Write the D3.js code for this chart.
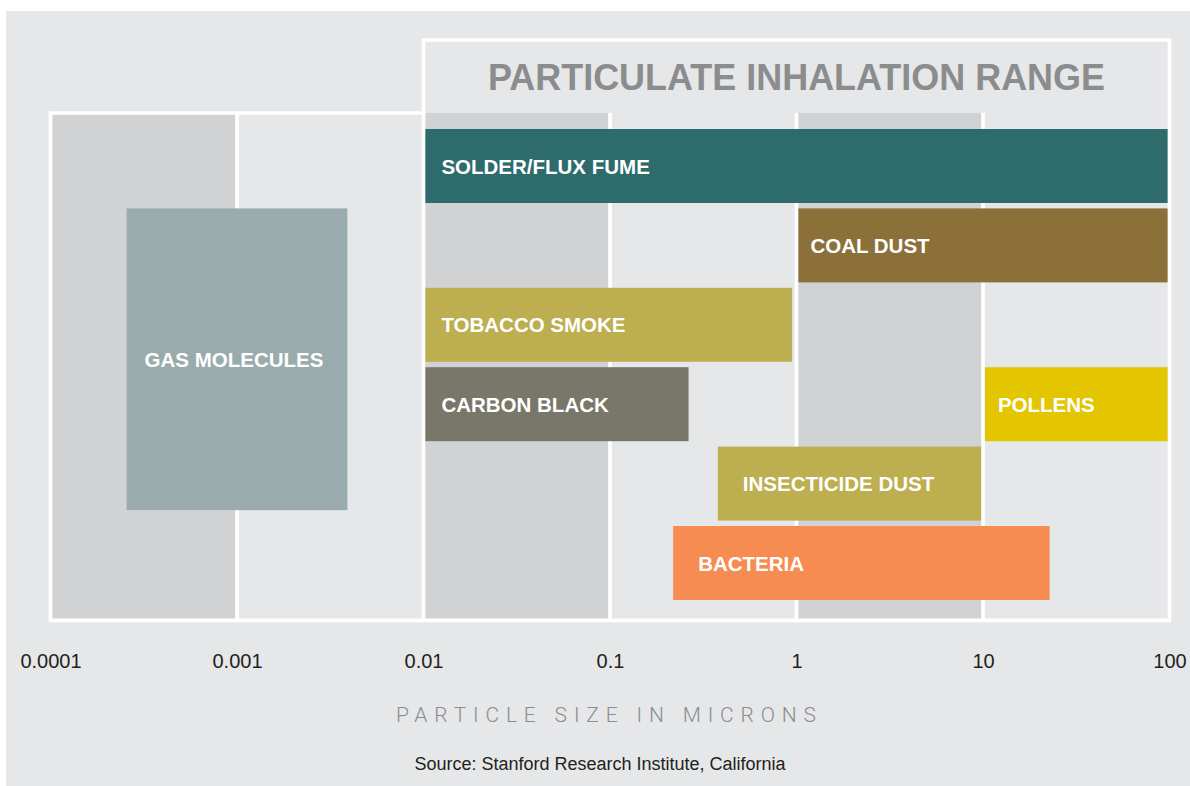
<!DOCTYPE html>
<html>
<head>
<meta charset="utf-8">
<script src="https://cdn.jsdelivr.net/npm/d3@7"></script>
<style>
  body { margin: 0; background: #fff; }
  text { font-family: "Liberation Sans", Arial, sans-serif; }
</style>
</head>
<body>
<svg id="chart" width="1190" height="786"></svg>
<script>
// Decade ticks on the size axis (microns)
var ticks = [0.0001, 0.001, 0.01, 0.1, 1, 10, 100];
var tickLabels = ["0.0001", "0.001", "0.01", "0.1", "1", "10", "100"];

// Particle ranges: name, smallest and largest size, and which row(s) they sit in
var particles = ["SOLDER/FLUX FUME", "COAL DUST", "TOBACCO SMOKE", "CARBON BLACK", "POLLENS", "INSECTICIDE DUST", "BACTERIA", "GAS MOLECULES"];
var sizeMin = [0.01, 1, 0.01, 0.01, 10, 0.37, 0.213, 0.00025];
var sizeMax = [100, 100, 0.97, 0.27, 100, 10, 23.3, 0.004];
var rowStart = [0, 1, 2, 3, 3, 4, 5, 1];
var rowEnd = [0.932, 1.932, 2.932, 3.932, 3.932, 4.932, 5.932, 4.8];

// styling kept apart from the data
var barColors = ["#2e6b6d", "#8b703a", "#bdae50", "#79766a", "#e3c500", "#bdae50", "#f78c52", "#9aabad"];
var labelPad = [16, 12, 16, 16, 13, 25, 25, null];

var svg = d3.select("#chart");

// background panel
svg.append("rect")
  .attr("x", 6).attr("y", 11)
  .attr("width", 1184).attr("height", 775)
  .attr("fill", "#e6e7e8");

var x = d3.scaleLog().domain([0.0001, 100]).range([50.5, 1169.5]);
var y = d3.scaleLinear().domain([0, 6]).range([129, 129 + 79.4 * 6]);

var plotTop = 113, plotBottom = 620.3, titleTop = 40;

// alternating decade bands
svg.selectAll(".band")
  .data(d3.range(ticks.length - 1))
  .enter().append("rect")
  .attr("class", "band")
  .attr("x", function(i) { return x(ticks[i]); })
  .attr("y", plotTop)
  .attr("width", function(i) { return x(ticks[i + 1]) - x(ticks[i]); })
  .attr("height", plotBottom - plotTop)
  .attr("fill", function(i) { return i % 2 == 0 ? "#d1d2d4" : "#e6e7e8"; });

// white decade separators
svg.selectAll(".sep")
  .data(ticks.slice(1, -1))
  .enter().append("line")
  .attr("class", "sep")
  .attr("x1", function(d) { return x(d); })
  .attr("x2", function(d) { return x(d); })
  .attr("y1", plotTop)
  .attr("y2", plotBottom)
  .attr("stroke", "#fff")
  .attr("stroke-width", 3.7);

// outline of plot + title box
var x0 = x(ticks[0]), x2 = x(ticks[2]), x6 = x(ticks[6]);
svg.append("path")
  .attr("d", "M" + x0 + "," + plotTop + "H" + x2 + "V" + titleTop + "H" + x6 + "V" + plotBottom + "H" + x0 + "Z")
  .attr("fill", "none")
  .attr("stroke", "#fff")
  .attr("stroke-width", 3.7);

// range bars
var inset = 1.9;
var bars = svg.selectAll(".bar")
  .data(particles)
  .enter().append("g")
  .attr("class", "bar");

bars.append("rect")
  .attr("x", function(d, i) { return x(sizeMin[i]) + inset; })
  .attr("y", function(d, i) { return y(rowStart[i]); })
  .attr("width", function(d, i) { return x(sizeMax[i]) - x(sizeMin[i]) - 2 * inset; })
  .attr("height", function(d, i) { return y(rowEnd[i]) - y(rowStart[i]); })
  .attr("fill", function(d, i) { return barColors[i]; });

bars.append("text")
  .attr("x", function(d, i) {
    if (labelPad[i] == null) return (x(sizeMin[i]) + x(sizeMax[i])) / 2 - 3;
    return x(sizeMin[i]) + inset + labelPad[i];
  })
  .attr("y", function(d, i) { return (y(rowStart[i]) + y(rowEnd[i])) / 2 + 7.5; })
  .attr("text-anchor", function(d, i) { return labelPad[i] == null ? "middle" : "start"; })
  .style("font-size", "20.5px")
  .style("font-weight", "bold")
  .style("fill", "#fff")
  .text(function(d) { return d; });

// title
svg.append("text")
  .attr("x", (x2 + x6) / 2)
  .attr("y", 89.5)
  .attr("text-anchor", "middle")
  .attr("textLength", 617)
  .attr("lengthAdjust", "spacingAndGlyphs")
  .style("font-family", "'Liberation Sans Narrow', 'Liberation Sans', Arial, sans-serif")
  .style("font-size", "37px")
  .style("font-weight", "bold")
  .style("fill", "#8b8c8e")
  .text("PARTICULATE INHALATION RANGE");

// x axis labels
var axis = svg.append("g")
  .attr("transform", "translate(0,668)")
  .call(d3.axisBottom(x).tickValues(ticks).tickSize(0).tickFormat(function(d, i) { return tickLabels[i]; }));
axis.select(".domain").remove();
axis.selectAll("text")
  .attr("y", 0).attr("dy", null)
  .style("font-family", "'Liberation Sans', Arial, sans-serif")
  .style("font-size", "20px")
  .style("fill", "#231f20");

// axis title
svg.append("text")
  .attr("x", 606)
  .attr("y", 722)
  .attr("text-anchor", "middle")
  .attr("textLength", 420)
  .attr("lengthAdjust", "spacing")
  .style("font-family", "Roboto, 'Liberation Sans', sans-serif")
  .style("font-weight", 300)
  .style("font-size", "21px")
  .style("fill", "#8b8c8e")
  .text("PARTICLE SIZE IN MICRONS");

// source note
svg.append("text")
  .attr("x", 600)
  .attr("y", 770)
  .attr("text-anchor", "middle")
  .style("font-size", "18px")
  .style("fill", "#231f20")
  .text("Source: Stanford Research Institute, California");
</script>
</body>
</html>
